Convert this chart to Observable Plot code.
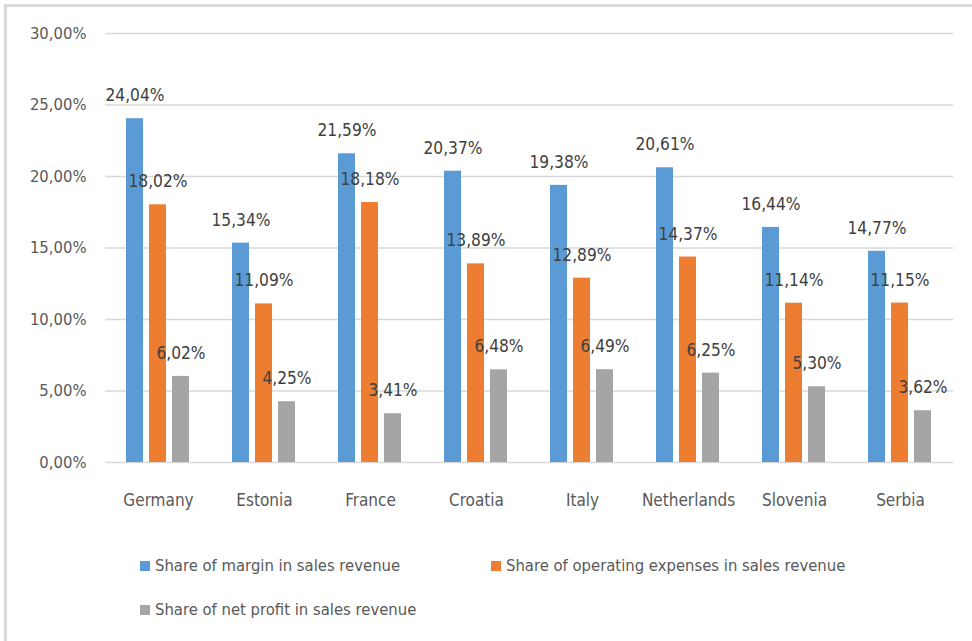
<!DOCTYPE html>
<html>
<head>
<meta charset="utf-8">
<script src="https://cdn.jsdelivr.net/npm/d3@7"></script>
<script src="https://cdn.jsdelivr.net/npm/@observablehq/plot@0.6"></script>
<style>
  html, body { margin: 0; padding: 0; background: #fff; }
  #wrap { position: relative; width: 972px; height: 641px; overflow: hidden; font-family: "DejaVu Sans Condensed", "Noto Sans", sans-serif; color: #595959; }
  #frame { position: absolute; left: 4px; top: 4px; width: 1000px; height: 660px; border-left: 3px solid #d9d9d9; border-top: 3px solid #d9d9d9; box-sizing: border-box; }
  #chart { position: absolute; left: 0; top: 0; }
  .leg { position: absolute; display: flex; align-items: center; font-size: 16.5px; white-space: nowrap; }
  .sw { width: 10px; height: 10px; margin-right: 5px; }
</style>
</head>
<body>
<div id="wrap">
  <div id="frame"></div>
  <div id="chart"></div>
  <div id="legend"></div>
</div>
<script>
const countries = ["Germany", "Estonia", "France", "Croatia", "Italy", "Netherlands", "Slovenia", "Serbia"];
const seriesNames = [
  "Share of margin in sales revenue",
  "Share of operating expenses in sales revenue",
  "Share of net profit in sales revenue"
];
const marginShare = [24.04, 15.34, 21.59, 20.37, 19.38, 20.61, 16.44, 14.77];
const opexShare   = [18.02, 11.09, 18.18, 13.89, 12.89, 14.37, 11.14, 11.15];
const profitShare = [6.02, 4.25, 3.41, 6.48, 6.49, 6.25, 5.30, 3.62];
const seriesColors = ["#5B9BD5", "#ED7D31", "#A5A5A5"];
const yTicks = [0, 5, 10, 15, 20, 25, 30];

const seriesValues = [marginShare, opexShare, profitShare];
const data = [];
countries.forEach((c, i) => {
  seriesNames.forEach((s, j) => {
    data.push({ country: c, series: s, value: seriesValues[j][i] });
  });
});

const fmt = d => d.toFixed(2).replace(".", ",") + "%";
const FONT = '"DejaVu Sans Condensed", "Noto Sans", sans-serif';

const chart = Plot.plot({
  width: 972,
  height: 530,
  marginLeft: 102,
  marginRight: 16,
  marginTop: 33,
  marginBottom: 68,
  style: { fontFamily: FONT, color: "#595959", background: "transparent" },
  fx: { domain: countries, padding: 0, label: null },
  x: { domain: seriesNames, paddingInner: 0.255, paddingOuter: 0.9, axis: null },
  y: { domain: [0, 30], axis: null },
  color: { domain: seriesNames, range: seriesColors },
  marks: [
    Plot.gridY(yTicks, { stroke: "#d9d9d9", strokeOpacity: 1, strokeWidth: 1.5 }),
    Plot.axisY(yTicks, { anchor: "left", tickSize: 0, tickPadding: 19, tickFormat: fmt, fontSize: 16.5, fill: "#595959", label: null }),
    Plot.axisFx({ anchor: "bottom", tickSize: 0, tickPadding: 31, fontSize: 17, fill: "#595959", label: null }),
    Plot.barY(data, { fx: "country", x: "series", y: "value", fill: "series" }),
    Plot.text(data, { fx: "country", x: "series", y: "value", text: d => fmt(d.value), dy: -23, fontSize: 17.2, fill: "#404040" })
  ]
});
document.getElementById("chart").appendChild(chart);

// legend
const legendPos = [
  { left: 140, top: 556 },
  { left: 491, top: 556 },
  { left: 140, top: 600 }
];
const legend = document.getElementById("legend");
seriesNames.forEach((s, i) => {
  const item = document.createElement("div");
  item.className = "leg";
  item.style.left = legendPos[i].left + "px";
  item.style.top = legendPos[i].top + "px";
  const sw = document.createElement("span");
  sw.className = "sw";
  sw.style.background = seriesColors[i];
  const tx = document.createElement("span");
  tx.textContent = s;
  item.appendChild(sw);
  item.appendChild(tx);
  legend.appendChild(item);
});
</script>
</body>
</html>
